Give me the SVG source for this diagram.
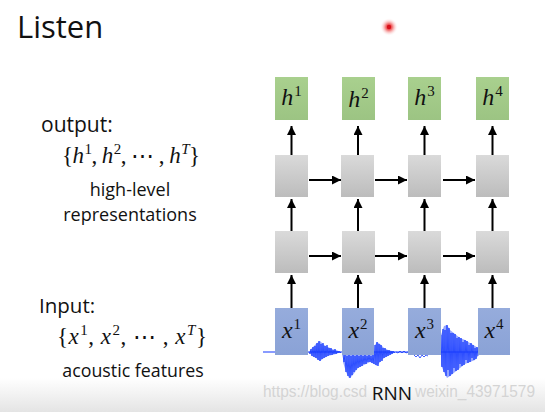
<svg xmlns="http://www.w3.org/2000/svg" width="545" height="412" viewBox="0 0 545 412">
<defs>
<linearGradient id="gGreen" x1="0" y1="0" x2="0" y2="1"><stop offset="0" stop-color="#a9d08e"/><stop offset="1" stop-color="#9cc483"/></linearGradient>
<linearGradient id="gGray" x1="0" y1="0" x2="0" y2="1"><stop offset="0" stop-color="#dadada"/><stop offset="1" stop-color="#bcbcbc"/></linearGradient>
<linearGradient id="gBlue" x1="0" y1="0" x2="0" y2="1"><stop offset="0" stop-color="#96acdc"/><stop offset="1" stop-color="#8aa2d6"/></linearGradient>
<linearGradient id="gBottom" x1="0" y1="0" x2="0" y2="1"><stop offset="0" stop-color="#ffffff"/><stop offset="1" stop-color="#e4e4e4"/></linearGradient>
<radialGradient id="gLaser"><stop offset="0" stop-color="#e8101a"/><stop offset="0.35" stop-color="#ee4a4a" stop-opacity="0.8"/><stop offset="1" stop-color="#ffffff" stop-opacity="0"/></radialGradient>
<marker id="ah" viewBox="0 0 10 10" refX="10" refY="5" markerWidth="9" markerHeight="9" markerUnits="userSpaceOnUse" orient="auto"><path d="M0,0 L10,5 L0,10 z" fill="#000"/></marker>
</defs>
<style>
.t{font-family:"Open Sans","Liberation Sans",sans-serif;fill:#111}
.m{font-family:"Liberation Serif","DejaVu Serif",serif;fill:#111}
.mi{font-style:italic}
.arr{stroke:#000;stroke-width:2;fill:none;marker-end:url(#ah)}
.green{fill:url(#gGreen)}
.gray{fill:url(#gGray)}
.blue{fill:url(#gBlue)}
.wave{fill:none;stroke:#1438ff;stroke-width:0.8}
.env{fill:#2a4cff;opacity:0.5}
.wm{font-family:"Liberation Sans",sans-serif;fill:#d4d4d4}
</style>
<rect x="0" y="0" width="545" height="412" fill="#fff"/>
<rect x="0" y="378" width="545" height="34" fill="url(#gBottom)"/>
<circle cx="389" cy="27" r="9" fill="url(#gLaser)"/>
<circle cx="389" cy="27" r="2.2" fill="#d8101a"/>

<text class="t" x="17" y="38" font-size="31">Listen</text>
<text class="t" x="41" y="132" font-size="21">output:</text>
<text class="m" x="62" y="163" font-size="23" textLength="138" lengthAdjust="spacing">{<tspan class="mi">h</tspan><tspan font-size="15" dx="1" dy="-9">1</tspan><tspan dy="9">, </tspan><tspan class="mi">h</tspan><tspan font-size="15" dx="1" dy="-9">2</tspan><tspan dy="9">, ⋯ , </tspan><tspan class="mi">h</tspan><tspan class="mi" font-size="15" dx="1" dy="-9">T</tspan><tspan dy="9">}</tspan></text>
<text class="t" x="130" y="196" font-size="18" text-anchor="middle">high-level</text>
<text class="t" x="130" y="221" font-size="18" text-anchor="middle">representations</text>
<text class="t" x="39" y="313" font-size="20.5">Input:</text>
<text class="m" x="57" y="344" font-size="23" textLength="150" lengthAdjust="spacing">{<tspan class="mi">x</tspan><tspan font-size="15" dx="1" dy="-9">1</tspan><tspan dy="9">, </tspan><tspan class="mi">x</tspan><tspan font-size="15" dx="1" dy="-9">2</tspan><tspan dy="9">, ⋯ , </tspan><tspan class="mi">x</tspan><tspan class="mi" font-size="15" dx="1" dy="-9">T</tspan><tspan dy="9">}</tspan></text>
<text class="t" x="133" y="377" font-size="17.8" text-anchor="middle">acoustic features</text>

<g id="waveform">
<line x1="263" y1="352" x2="478" y2="352" stroke="#1438ff" stroke-width="1.2"/>
<polygon class="env" points="309,352 312,348 316,344 320,341 324,345 328,347 332,349 336,350 341,352 336,354 332,355 328,356 324,358 320,361 316,358 312,356"/>
<path class="wave" d="M309 352 L310 354 L311 349 L312 356 L313 347 L314 357 L315 346 L316 358 L317 343 L318 360 L319 341 L320 361 L321 344 L322 359 L323 343 L324 358 L325 346 L326 357 L327 345 L328 356 L329 348 L330 355 L331 348 L332 355 L333 350 L334 354 L335 349 L336 354 L337 351 L338 353 L339 351 L340 353 L341 352"/>
<polygon class="env" points="343,355 374,355 375,345 377,342 380,344 384,348 388,350 392,351 395,352 392,354 388,356 384,358 380,362 377,366 374,364 370,362 366,364 362,366 358,368 355,372 352,376 349,378 346,372 343,362"/>
<path class="wave" d="M343 355 L344 362 L345 355 L346 372 L347 356 L348 376 L349 355 L350 378 L351 356 L352 375 L353 355 L354 372 L355 356 L356 370 L357 355 L358 368 L359 356 L360 367 L361 355 L362 366 L363 356 L364 364 L365 355 L366 364 L367 356 L368 362 L369 355 L370 362 L371 356 L372 363 L373 355 L374 364 L375 345 L376 365 L377 342 L378 366 L379 344 L380 362 L381 345 L382 361 L383 348 L384 358 L385 348 L386 357 L387 350 L388 356 L389 350 L390 355 L391 351 L392 354 L393 351 L394 353 L395 352"/>
<path class="wave" d="M396 352 L398 353 L400 351 L402 353 L404 351 L406 353 L408 352 M414 355 L416 357 L418 355 L420 358 L422 355 L424 357 L426 355 L428 356"/>
<polygon class="env" points="441,335 444,326 447,325 450,330 455,334 460,338 465,340 470,343 475,346 478,348 478,356 475,360 470,362 465,364 460,368 455,372 450,376 447,378 444,372 441,365"/>
<path class="wave" d="M441 335 L442 367 L443 329 L444 372 L445 330 L446 376 L447 325 L448 370 L449 328 L450 376 L451 333 L452 374 L453 333 L454 368 L455 334 L456 371 L457 338 L458 370 L459 337 L460 364 L461 338 L462 366 L463 342 L464 365 L465 340 L466 360 L467 341 L468 363 L469 345 L470 362 L471 343 L472 358 L473 345 L474 360 L475 348 L476 359 L477 347 L478 356"/>
</g>

<g id="connectors">
<line class="arr" x1="291.5" y1="155" x2="291.5" y2="126"/>
<line class="arr" x1="358" y1="155" x2="358" y2="126"/>
<line class="arr" x1="424.5" y1="155" x2="424.5" y2="126"/>
<line class="arr" x1="492.5" y1="155" x2="492.5" y2="126"/>
<line class="arr" x1="291.5" y1="231" x2="291.5" y2="199"/>
<line class="arr" x1="358" y1="231" x2="358" y2="199"/>
<line class="arr" x1="424.5" y1="231" x2="424.5" y2="199"/>
<line class="arr" x1="492.5" y1="231" x2="492.5" y2="199"/>
<line class="arr" x1="291.5" y1="308" x2="291.5" y2="275"/>
<line class="arr" x1="358" y1="308" x2="358" y2="275"/>
<line class="arr" x1="424.5" y1="308" x2="424.5" y2="275"/>
<line class="arr" x1="492.5" y1="308" x2="492.5" y2="275"/>
<line class="arr" x1="309" y1="180" x2="341" y2="180"/>
<line class="arr" x1="375" y1="180" x2="407" y2="180"/>
<line class="arr" x1="443" y1="180" x2="475" y2="180" stroke-width="2.5"/>
<line class="arr" x1="309" y1="256" x2="341" y2="256"/>
<line class="arr" x1="375" y1="256" x2="407" y2="256"/>
<line class="arr" x1="443" y1="256" x2="475" y2="256" stroke-width="2.5"/>
</g>

<g id="h1"><rect class="green" x="275" y="77" width="33" height="43"/><text class="m" x="291.5" y="105" font-size="24" text-anchor="middle"><tspan class="mi">h</tspan><tspan font-size="15" dx="1" dy="-9">1</tspan></text></g>
<g id="h2"><rect class="green" x="342" y="77" width="33" height="43"/><text class="m" x="358.5" y="107" font-size="24" text-anchor="middle"><tspan class="mi">h</tspan><tspan font-size="15" dx="1" dy="-9">2</tspan></text></g>
<g id="h3"><rect class="green" x="408" y="77" width="33" height="43"/><text class="m" x="424.5" y="105" font-size="24" text-anchor="middle"><tspan class="mi">h</tspan><tspan font-size="15" dx="1" dy="-9">3</tspan></text></g>
<g id="h4"><rect class="green" x="476" y="77" width="33" height="43"/><text class="m" x="492.5" y="105" font-size="24" text-anchor="middle"><tspan class="mi">h</tspan><tspan font-size="15" dx="1" dy="-9">4</tspan></text></g>

<g id="r1c1"><rect class="gray" x="275" y="155" width="33" height="42"/></g>
<g id="r1c2"><rect class="gray" x="341" y="155" width="33" height="42"/></g>
<g id="r1c3"><rect class="gray" x="408" y="155" width="33" height="42"/></g>
<g id="r1c4"><rect class="gray" x="476" y="155" width="33" height="42"/></g>
<g id="r2c1"><rect class="gray" x="275" y="231" width="33" height="42"/></g>
<g id="r2c2"><rect class="gray" x="342" y="231" width="33" height="42"/></g>
<g id="r2c3"><rect class="gray" x="408" y="231" width="33" height="42"/></g>
<g id="r2c4"><rect class="gray" x="476" y="231" width="33" height="42"/></g>

<g id="x1"><rect class="blue" x="275" y="308" width="33" height="47"/><text class="m" x="291.5" y="338" font-size="24" text-anchor="middle"><tspan class="mi">x</tspan><tspan font-size="15" dx="1" dy="-9">1</tspan></text></g>
<g id="x2"><rect class="blue" x="342" y="308" width="32" height="47"/><text class="m" x="358" y="338" font-size="24" text-anchor="middle"><tspan class="mi">x</tspan><tspan font-size="15" dx="1" dy="-9">2</tspan></text></g>
<g id="x3"><rect class="blue" x="408" y="308" width="33" height="47"/><text class="m" x="424.5" y="338" font-size="24" text-anchor="middle"><tspan class="mi">x</tspan><tspan font-size="15" dx="1" dy="-9">3</tspan></text></g>
<g id="x4"><rect class="blue" x="478" y="308" width="32" height="47"/><text class="m" x="494" y="338" font-size="24" text-anchor="middle"><tspan class="mi">x</tspan><tspan font-size="15" dx="1" dy="-9">4</tspan></text></g>

<text class="wm" x="263" y="397" font-size="16.5" textLength="104" lengthAdjust="spacingAndGlyphs">https://blog.csd</text>
<text class="wm" x="415" y="397" font-size="16.5" textLength="120" lengthAdjust="spacingAndGlyphs">weixin_43971579</text>
<text class="t" x="392" y="400" font-size="19" text-anchor="middle" fill="#222">RNN</text>
</svg>
